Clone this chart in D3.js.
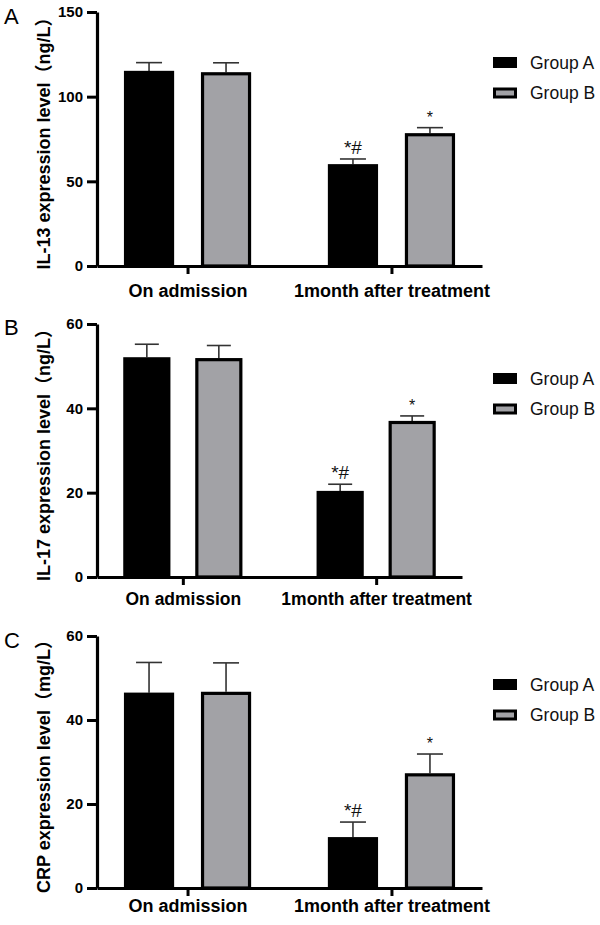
<!DOCTYPE html>
<html>
<head>
<meta charset="utf-8">
<script src="https://cdn.jsdelivr.net/npm/d3@7"></script>
<style>
  body { margin: 0; background: #fff; }
  svg { display: block; }
  text { font-family: "Liberation Sans", Arial, "Noto Sans CJK SC", sans-serif; }
</style>
</head>
<body>
<svg id="chart" width="600" height="925"></svg>
<script>
// ---- data ----
const categories = ["On admission", "1month after treatment"];
const groups = ["Group A", "Group B"];

const il13A = [115.2, 60.1];
const il13B = [114.4, 78.4];
const il13ErrA = [4.9, 3.1];
const il13ErrB = [5.6, 3.3];

const il17A = [52.1, 20.4];
const il17B = [51.9, 37.0];
const il17ErrA = [3.1, 1.6];
const il17ErrB = [3.0, 1.2];

const crpA = [46.5, 12.1];
const crpB = [46.7, 27.3];
const crpErrA = [7.2, 3.6];
const crpErrB = [6.9, 4.6];

const annotA = ["", "*#"];
const annotB = ["", "*"];

const ticks150 = [0, 50, 100, 150];
const ticks60 = [0, 20, 40, 60];

const panels = [
  { letter: "A", label: "IL-13 expression level（ng/L）", a: il13A, b: il13B, ea: il13ErrA, eb: il13ErrB,
    ymax: 150, ticks: ticks150,
    top: 12, bottom: 266, left: 97, right: 482, barW: 50, gap: 27, cap: 26, labelBase: 297, letterY: 24, legY: 57, xfs: 18 },
  { letter: "B", label: "IL-17 expression level（ng/L）", a: il17A, b: il17B, ea: il17ErrA, eb: il17ErrB,
    ymax: 60, ticks: ticks60,
    top: 324, bottom: 577, left: 97, right: 462, barW: 47, gap: 25, cap: 24, labelBase: 605, letterY: 335, legY: 373, xfs: 17.5 },
  { letter: "C", label: "CRP expression level（mg/L）", a: crpA, b: crpB, ea: crpErrA, eb: crpErrB,
    ymax: 60, ticks: ticks60,
    top: 636, bottom: 888, left: 97, right: 482, barW: 50, gap: 27, cap: 26, labelBase: 912, letterY: 648, legY: 679, xfs: 18 }
];

const colors = { "Group A": "#000000", "Group B": "#a2a2a6" };

const svg = d3.select("#chart");

panels.forEach(p => {
  const g = svg.append("g");
  const y = d3.scaleLinear().domain([0, p.ymax]).range([p.bottom, p.top]);
  const x = d3.scalePoint().domain(categories).range([p.left, p.right]).padding(0.444);
  const half = p.barW + p.gap / 2;
  const inner = d3.scaleBand().domain(groups).range([-half, half])
    .paddingInner(p.gap / (p.barW + p.gap)).paddingOuter(0);

  const rows = [];
  categories.forEach((c, i) => {
    rows.push({ cat: c, grp: "Group A", v: p.a[i], e: p.ea[i], note: annotA[i] });
    rows.push({ cat: c, grp: "Group B", v: p.b[i], e: p.eb[i], note: annotB[i] });
  });

  // error bars (upper only)
  const eg = g.append("g");
  rows.forEach(r => {
    const cx = x(r.cat) + inner(r.grp) + inner.bandwidth() / 2;
    eg.append("line").attr("x1", cx).attr("x2", cx)
      .attr("y1", y(r.v)).attr("y2", y(r.v + r.e))
      .attr("stroke", "#333").attr("stroke-width", 1.6);
    eg.append("line").attr("x1", cx - p.cap / 2).attr("x2", cx + p.cap / 2)
      .attr("y1", y(r.v + r.e)).attr("y2", y(r.v + r.e))
      .attr("stroke", "#333").attr("stroke-width", 1.6);
    if (r.note) {
      eg.append("text").attr("x", cx).attr("y", y(r.v + r.e) - 5)
        .attr("text-anchor", "middle")
        .attr("font-size", r.note.length > 1 ? 19 : 16)
        .attr("fill", "#111")
        .text(r.note);
    }
  });

  // bars
  g.append("g").selectAll("rect").data(rows).join("rect")
    .attr("x", d => x(d.cat) + inner(d.grp) + 1.5)
    .attr("width", inner.bandwidth() - 3)
    .attr("y", d => y(d.v) + 1.5)
    .attr("height", d => y(0) - y(d.v) - 1.5)
    .attr("fill", d => colors[d.grp])
    .attr("stroke", "#000").attr("stroke-width", 3.2);

  // y axis
  const ya = g.append("g").attr("transform", `translate(${p.left},0)`)
    .call(d3.axisLeft(y).tickValues(p.ticks).tickSize(10).tickSizeOuter(0).tickPadding(4));
  ya.select(".domain").attr("stroke-width", 3.2);
  ya.selectAll(".tick line").attr("stroke-width", 3);
  ya.selectAll(".tick text").attr("font-size", 15).attr("font-weight", "bold").attr("fill", "#000")
    .style("font-family", '"Liberation Sans", Arial, sans-serif');

  // x axis
  const xa = g.append("g").attr("transform", `translate(0,${p.bottom})`)
    .call(d3.axisBottom(x).tickSize(8).tickSizeOuter(0).tickPadding(10));
  xa.select(".domain").attr("stroke-width", 3.2);
  xa.selectAll(".tick line").attr("stroke-width", 3);
  xa.selectAll(".tick text").attr("font-size", p.xfs).attr("font-weight", "bold").attr("fill", "#000")
    .attr("dy", null).attr("y", p.labelBase - p.bottom)
    .style("font-family", '"Liberation Sans", Arial, sans-serif');

  // y label
  g.append("text")
    .attr("transform", `translate(50,${(p.top + p.bottom) / 2}) rotate(-90)`)
    .attr("text-anchor", "middle")
    .attr("font-size", 18).attr("font-weight", "bold")
    .text(p.label);

  // panel letter
  g.append("text").attr("x", 4).attr("y", p.letterY)
    .attr("font-size", 22).text(p.letter);

  // legend
  const lg = g.append("g");
  groups.forEach((grp, i) => {
    const yy = p.legY + i * 30.5;
    lg.append("rect").attr("x", 494.5).attr("y", yy + 1.5).attr("width", 21).attr("height", 8)
      .attr("fill", colors[grp]).attr("stroke", "#000").attr("stroke-width", 3);
    lg.append("text").attr("x", 530).attr("y", yy + 11.5)
      .attr("font-size", 17.5).attr("fill", "#111").text(grp);
  });
});
</script>
</body>
</html>
